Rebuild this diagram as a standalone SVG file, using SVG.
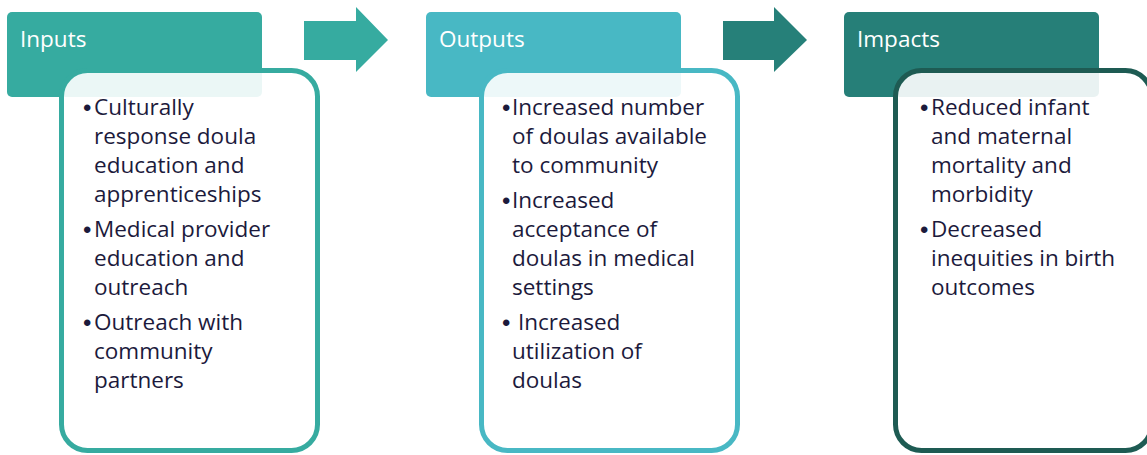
<svg xmlns="http://www.w3.org/2000/svg" width="1147" height="455" viewBox="0 0 1147 455">
<style>
.hdr{stroke:none}
.body{fill:#ffffff;fill-opacity:0.9;stroke-width:5}
.ht{font-family:"Open Sans","Liberation Sans",sans-serif;font-size:22.5px;fill:#ffffff}
.bt{font-family:"Open Sans","Liberation Sans",sans-serif;font-size:22.5px;fill:#1c1a3c}
.bu{font-family:"Liberation Sans",sans-serif;font-size:24px;fill:#1c1a3c}
</style>
<rect width="1147" height="455" fill="#ffffff"/>
<g id="connectors">
<polygon points="304,21 356,21 356,7 388,40 356,72 356,60 304,60" fill="#36aba0"/>
<polygon points="723,21 774,21 774,7 807,40 774,72 774,60 723,60" fill="#268079"/>
</g>
<g id="inputs">
<rect class="hdr" x="7" y="12" width="255" height="85" rx="5" fill="#36aba0"/>
<text class="ht" x="20" y="47">Inputs</text>
<rect class="body" x="61.5" y="70.5" width="256" height="380" rx="26" stroke="#36aba0"/>
<g class="bu">
<text x="83" y="116">•</text>
<text x="83" y="238">•</text>
<text x="83" y="331">•</text>
</g>
<g class="bt">
<text x="94" y="115">Culturally</text>
<text x="94" y="144">response doula</text>
<text x="94" y="173">education and</text>
<text x="94" y="202">apprenticeships</text>
<text x="94" y="237">Medical provider</text>
<text x="94" y="266">education and</text>
<text x="94" y="295">outreach</text>
<text x="94" y="330">Outreach with</text>
<text x="94" y="359">community</text>
<text x="94" y="388">partners</text>
</g>
</g>
<g id="outputs">
<rect class="hdr" x="426" y="12" width="255" height="85" rx="5" fill="#48b8c4"/>
<text class="ht" x="439" y="47">Outputs</text>
<rect class="body" x="481.5" y="70.5" width="256" height="380" rx="26" stroke="#48b8c4"/>
<g class="bu">
<text x="502" y="116">•</text>
<text x="502" y="209">•</text>
<text x="502" y="331">•</text>
</g>
<g class="bt">
<text x="512" y="115">Increased number</text>
<text x="512" y="144">of doulas available</text>
<text x="512" y="173">to community</text>
<text x="512" y="208">Increased</text>
<text x="512" y="237">acceptance of</text>
<text x="512" y="266">doulas in medical</text>
<text x="512" y="295">settings</text>
<text x="518" y="330">Increased</text>
<text x="512" y="359">utilization of</text>
<text x="512" y="388">doulas</text>
</g>
</g>
<g id="impacts">
<rect class="hdr" x="844" y="12" width="255" height="85" rx="5" fill="#267f78"/>
<text class="ht" x="857" y="47">Impacts</text>
<rect class="body" x="895.5" y="70.5" width="256" height="380" rx="26" stroke="#1e5b53"/>
<g class="bu">
<text x="920" y="116">•</text>
<text x="920" y="238">•</text>
</g>
<g class="bt">
<text x="931" y="115">Reduced infant</text>
<text x="931" y="144">and maternal</text>
<text x="931" y="173">mortality and</text>
<text x="931" y="202">morbidity</text>
<text x="931" y="237">Decreased</text>
<text x="931" y="266">inequities in birth</text>
<text x="931" y="295">outcomes</text>
</g>
</g>
</svg>
